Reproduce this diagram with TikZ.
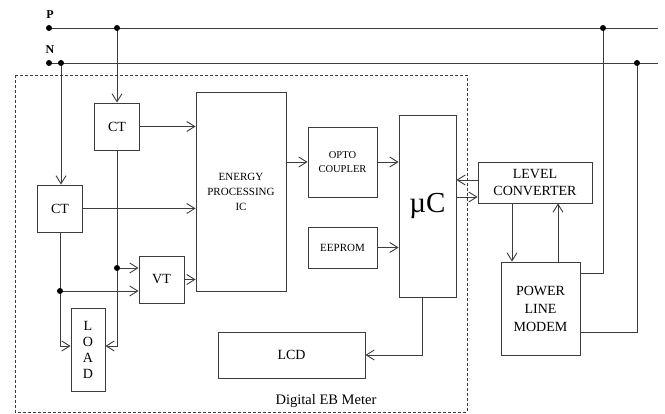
\documentclass[tikz,border=0pt]{standalone}
\usepackage{fontspec}
\setmainfont{Liberation Serif}
\usepackage{xcolor}
\definecolor{wire}{RGB}{60,60,60}
\usepackage{tikz}
\usetikzlibrary{arrows.meta,calc}

\begin{document}
\begin{tikzpicture}[x=1pt,y=-1pt,
      blk/.style={rectangle,draw=wire,line width=0.9pt,fill=white,inner sep=0pt,
                  align=center,font=\fontsize{14}{17}\selectfont},
      small/.style={font=\fontsize{10.5}{14}\selectfont},
      wire/.style={draw=wire,line width=0.9pt},
      arr/.style={wire,-{Straight Barb[length=8pt,width=10pt]}},
      dot/.style={circle,fill=black,inner sep=0pt,minimum size=6pt}]
    \useasboundingbox (0,0) rectangle (665,414);
    \draw[wire,dashed,dash pattern=on 3pt off 2pt] (15,75) rectangle (467,412);
    \node[font=\fontsize{14.5}{16}\selectfont] (meter) at (326,401) {Digital EB Meter};
    \node[font=\bfseries\fontsize{12}{14}\selectfont] (plab) at (50,15) {P};
    \node[font=\bfseries\fontsize{12}{14}\selectfont] (nlab) at (50,50) {N};
    \coordinate (pstart) at (49,28);
    \coordinate (nstart) at (49,63);
    \coordinate (pend) at (658,28);
    \coordinate (nend) at (658,63);
    \coordinate (pj) at (117,28);
    \coordinate (nj) at (61,63);
    \coordinate (pr) at (603,28);
    \coordinate (nr) at (637,63);
    \node[blk,minimum width=45,minimum height=47] (ct1) at (117,126.5) {CT};
    \node[blk,minimum width=45,minimum height=47] (ct2) at (60,208.5) {CT};
    \node[blk,minimum width=90,minimum height=199,small,font=\fontsize{11}{15}\selectfont] (ic) at (241,191.5) {ENERGY\\PROCESSING\\IC};
    \node[blk,minimum width=69,minimum height=70,small] (opto) at (342.5,162) {OPTO\\COUPLER};
    \node[blk,minimum width=69,minimum height=41,font=\fontsize{11}{14}\selectfont] (eeprom) at (342.5,247.5) {EEPROM};
    \node[blk,minimum width=57,minimum height=182,font=\fontsize{29}{32}\selectfont] (uc) at (427.5,206) {µC};
    \node[blk,minimum width=114,minimum height=41] (lc) at (535,182.5) {LEVEL\\CONVERTER};
    \node[blk,minimum width=79,minimum height=93,font=\fontsize{14}{18}\selectfont] (plm) at (540.5,308.5) {POWER\\LINE\\MODEM};
    \node[blk,minimum width=45,minimum height=47] (vt) at (161.5,279.5) {VT};
    \node[blk,minimum width=34,minimum height=83,font=\fontsize{14}{16}\selectfont] (load) at (88,349.5) {L\\O\\A\\D};
    \node[blk,minimum width=147,minimum height=46] (lcd) at (291.5,355) {LCD};
    \coordinate (j1) at (ct1.south |- 0,268);
    \coordinate (j2) at (ct2.south |- 0,291);
    \draw[wire] (pstart) -- (pend);
    \draw[wire] (nstart) -- (nend);
    \draw[arr] (pj) -- (pj |- ct1.north);
    \draw[arr] (nj) -- (nj |- ct2.north);
    \draw[arr] (ct1.east) -- (ct1.east -| ic.west);
    \draw[arr] (ct2.east) -- (ct2.east -| ic.west);
    \draw[arr] (vt.east) -- (vt.east -| ic.west);
    \draw[arr] (opto.west -| ic.east) -- (opto.west);
    \draw[arr] (opto.east) -- (opto.east -| uc.west);
    \draw[arr] (eeprom.east) -- (eeprom.east -| uc.west);
    \draw[arr] (lc.west |- 0,180) -- (uc.east |- 0,180);
    \draw[arr] (uc.east |- 0,197) -- (lc.west |- 0,197);
    \draw[arr] (lc.south -| 512,0) -- (plm.north -| 512,0);
    \draw[arr] (plm.north -| 558,0) -- (lc.south -| 558,0);
    \draw[wire] (plm.east |- 0,273) -| (pr);
    \draw[wire] (plm.east |- 0,332) -| (nr);
    \draw[arr] (ct1.south) |- (load.east |- 0,346);
    \draw[arr] (ct2.south) |- (load.west |- 0,346);
    \draw[arr] (j1) -- (j1 -| vt.west);
    \draw[arr] (j2) -- (j2 -| vt.west);
    \draw[arr] (uc.south -| 422,0) |- (lcd.east);
    \foreach \p in {pstart,nstart,pj,nj,pr,nr,j1,j2}
      \node[dot] at (\p) {};
  \end{tikzpicture}
\end{document}
